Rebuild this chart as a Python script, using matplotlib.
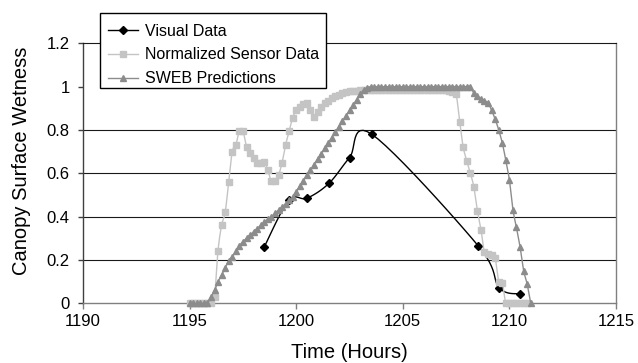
import numpy as np
import matplotlib
matplotlib.use("Agg")
import matplotlib.pyplot as plt
from matplotlib.lines import Line2D
from matplotlib.patches import Rectangle

plt.rcParams['font.family'] = ['Liberation Sans', 'DejaVu Sans']

# ---------------- data ----------------
visual_hours = [1198.5, 1199.65, 1200.5, 1201.53, 1202.5, 1203.55, 1208.53, 1209.52, 1210.52]
visual_wetness = [0.26, 0.475, 0.485, 0.553, 0.672, 0.78, 0.266, 0.072, 0.043]

sample_hours = [
    1195.00, 1195.17, 1195.33, 1195.50, 1195.67, 1195.83,
    1196.00, 1196.17, 1196.33, 1196.50, 1196.67, 1196.83,
    1197.00, 1197.17, 1197.33, 1197.50, 1197.67, 1197.83,
    1198.00, 1198.17, 1198.33, 1198.50, 1198.67, 1198.83,
    1199.00, 1199.17, 1199.33, 1199.50, 1199.67, 1199.83,
    1200.00, 1200.17, 1200.33, 1200.50, 1200.67, 1200.83,
    1201.00, 1201.17, 1201.33, 1201.50, 1201.67, 1201.83,
    1202.00, 1202.17, 1202.33, 1202.50, 1202.67, 1202.83,
    1203.00, 1203.17, 1203.33, 1203.50, 1203.67, 1203.83,
    1204.00, 1204.17, 1204.33, 1204.50, 1204.67, 1204.83,
    1205.00, 1205.17, 1205.33, 1205.50, 1205.67, 1205.83,
    1206.00, 1206.17, 1206.33, 1206.50, 1206.67, 1206.83,
    1207.00, 1207.17, 1207.33, 1207.50, 1207.67, 1207.83,
    1208.00, 1208.17, 1208.33, 1208.50, 1208.67, 1208.83,
    1209.00, 1209.17, 1209.33, 1209.50, 1209.67, 1209.83,
    1210.00, 1210.17, 1210.33, 1210.50, 1210.67, 1210.83,
    1211.00,
]

sensor_wetness = [
    0.0, 0.0, 0.0, 0.0, 0.0, 0.0,
    0.0, 0.03, 0.24, 0.36, 0.42, 0.56,
    0.70, 0.73, 0.795, 0.795, 0.723, 0.692,
    0.672, 0.646, 0.648, 0.653, 0.615, 0.564,
    0.566, 0.592, 0.646, 0.73, 0.795, 0.855,
    0.89, 0.905, 0.92, 0.923, 0.89, 0.861,
    0.885, 0.905, 0.923, 0.935, 0.946, 0.955,
    0.962, 0.969, 0.975, 0.978, 0.98, 0.982,
    0.983, 0.984, 0.984, 0.985, 0.985, 0.985,
    0.986, 0.986, 0.986, 0.986, 0.986, 0.986,
    0.986, 0.986, 0.986, 0.985, 0.985, 0.985,
    0.985, 0.985, 0.984, 0.984, 0.984, 0.983,
    0.983, 0.98, 0.975, 0.965, 0.838, 0.723,
    0.657, 0.60, 0.538, 0.427, 0.338, 0.235,
    0.228, 0.222, 0.21, 0.10, 0.092, 0.0,
    0.0, 0.0, 0.0, 0.0, 0.0, 0.0,
]

sweb_wetness = [
    0.0, 0.0, 0.0, 0.0, 0.0, 0.0,
    0.03, 0.06, 0.10, 0.13, 0.165, 0.195,
    0.215, 0.24, 0.265, 0.285, 0.30, 0.315,
    0.33, 0.345, 0.36, 0.375, 0.39, 0.40,
    0.415, 0.43, 0.445, 0.46, 0.475, 0.49,
    0.515, 0.54, 0.565, 0.59, 0.615, 0.64,
    0.665, 0.69, 0.715, 0.74, 0.765, 0.79,
    0.815, 0.84, 0.865, 0.89, 0.915, 0.94,
    0.965, 0.985, 0.995, 1.0, 1.0, 1.0,
    1.0, 1.0, 1.0, 1.0, 1.0, 1.0,
    1.0, 1.0, 1.0, 1.0, 1.0, 1.0,
    1.0, 1.0, 1.0, 1.0, 1.0, 1.0,
    1.0, 1.0, 1.0, 1.0, 1.0, 1.0,
    1.0, 1.0, 0.97, 0.955, 0.945, 0.935,
    0.925, 0.89, 0.85, 0.80, 0.738, 0.661,
    0.569, 0.43, 0.35, 0.26, 0.15, 0.09,
    0.0,
]

series_labels = ['Visual Data', 'Normalized Sensor Data', 'SWEB Predictions']
x_ticks = [1190, 1195, 1200, 1205, 1210, 1215]
y_ticks = [0, 0.2, 0.4, 0.6, 0.8, 1.0, 1.2]
y_tick_labels = ['0', '0.2', '0.4', '0.6', '0.8', '1', '1.2']
grid_levels = [0.2, 0.4, 0.6, 0.8]


def smooth(x, y, n=12):
    """Excel-like smoothed line (Bezier through points)."""
    P = np.column_stack([np.asarray(x, float), np.asarray(y, float)])
    Pp = np.vstack([P[0], P, P[-1]])
    t = np.linspace(0, 1, n + 1)[1:][:, None]
    out = [P[0]]
    for i in range(len(P) - 1):
        p0, p1, p2, p3 = Pp[i], Pp[i + 1], Pp[i + 2], Pp[i + 3]
        c1 = p1 + (p2 - p0) / 6.0
        c2 = p2 - (p3 - p1) / 6.0
        seg = ((1 - t) ** 3) * p1 + 3 * ((1 - t) ** 2) * t * c1 + 3 * (1 - t) * t ** 2 * c2 + t ** 3 * p2
        out.extend(seg)
    out = np.array(out)
    return out[:, 0], out[:, 1]


sensor_hours = sample_hours[:len(sensor_wetness)]
sweb_hours = sample_hours[:len(sweb_wetness)]

SENSOR_C = '#C4C4C4'
SWEB_C = '#8C8C8C'
W, H = 638, 363

fig = plt.figure(figsize=(6.38, 3.63), dpi=100)
ax = fig.add_axes([83 / W, 1 - 303.3 / H, 533 / W, 260 / H])

for g in grid_levels:
    ax.axhline(g, color='#1a1a1a', lw=0.8, zorder=1)

# visual (drawn first, as in the original series order)
vx, vy = smooth(visual_hours, visual_wetness)
ax.plot(vx, vy, color='black', lw=1.0, zorder=2)
ax.plot(visual_hours, visual_wetness, ls='none', marker='D', ms=3.8,
        mfc='black', mec='black', zorder=2)
# sensor
sx, sy = smooth(sensor_hours, sensor_wetness)
ax.plot(sx, sy, color=SENSOR_C, lw=1.0, zorder=3, clip_on=False)
ax.plot(sensor_hours, sensor_wetness, ls='none', marker='s', ms=4.6,
        mfc=SENSOR_C, mec=SENSOR_C, zorder=3, clip_on=False)
# sweb
wx, wy = smooth(sweb_hours, sweb_wetness)
ax.plot(wx, wy, color=SWEB_C, lw=1.0, zorder=4, clip_on=False)
ax.plot(sweb_hours, sweb_wetness, ls='none', marker='^', ms=5,
        mfc=SWEB_C, mec=SWEB_C, zorder=4, clip_on=False)

ax.set_xlim(1190, 1215)
ax.set_ylim(0, 1.2)
ax.set_xticks(x_ticks)
ax.set_xticklabels([str(v) for v in x_ticks])
ax.set_yticks(y_ticks)
ax.set_yticklabels(y_tick_labels)

ax.spines['top'].set_color('#1a1a1a')
ax.spines['top'].set_linewidth(0.8)
ax.spines['right'].set_color('#808080')
ax.spines['right'].set_linewidth(1.0)
ax.spines['bottom'].set_color('#808080')
ax.spines['bottom'].set_linewidth(1.0)
ax.spines['left'].set_color('#404040')
ax.spines['left'].set_linewidth(1.0)

ax.tick_params(axis='x', direction='out', length=4, width=1.0, color='#808080',
               labelsize=12, labelcolor='black', pad=4)
ax.tick_params(axis='y', direction='out', length=3.5, width=1.0, color='#404040',
               labelsize=12, labelcolor='black', pad=6)

ax.set_xlabel('Time (Hours)', fontsize=14.5, va='center')
ax.xaxis.set_label_coords(0.5, -0.191)
ax.set_ylabel('Canopy Surface Wetness', fontsize=14.5, va='center')
ax.yaxis.set_label_coords(-0.115, 0.548)

# legend box (drawn as its own frame)
box = Rectangle((100 / W, 1 - 88.3 / H), 226 / W, 75 / H, transform=fig.transFigure,
                facecolor='white', edgecolor='black', lw=1.0, zorder=4)
fig.add_artist(box)

handles = [
    Line2D([], [], color='black', lw=1.0, marker='D', ms=3.8, mfc='black', mec='black'),
    Line2D([], [], color=SENSOR_C, lw=1.0, marker='s', ms=4.6, mfc=SENSOR_C, mec=SENSOR_C),
    Line2D([], [], color=SWEB_C, lw=1.0, marker='^', ms=5, mfc=SWEB_C, mec=SWEB_C),
]
leg = fig.legend(handles, series_labels, loc='upper left',
                 bbox_to_anchor=(97.6 / W, 1 - 13.3 / H), bbox_transform=fig.transFigure,
                 frameon=False, fontsize=11.5, handlelength=1.9, handletextpad=0.4,
                 borderpad=0.65, labelspacing=0.55, borderaxespad=0, numpoints=1)
leg.set_zorder(5)

fig.savefig('out.png', dpi=100)
